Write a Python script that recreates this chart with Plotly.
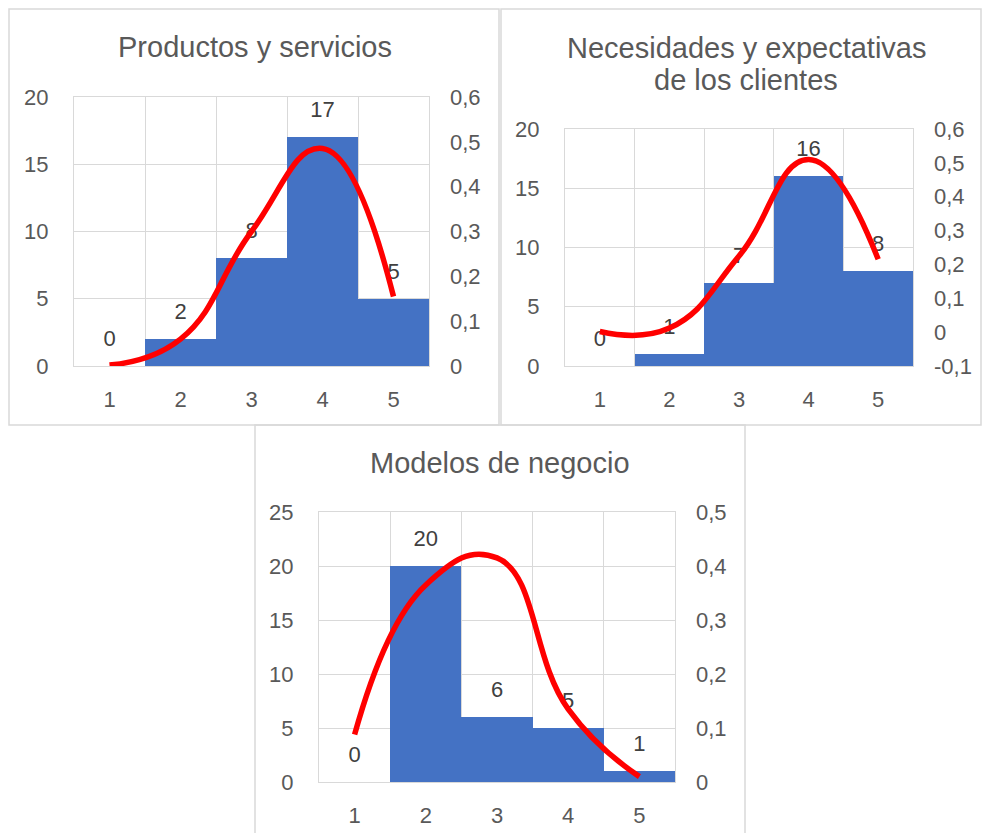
import plotly.graph_objects as go

# Datos de las tres distribuciones (frecuencias y curva normal ajustada)
categorias = [1, 2, 3, 4, 5]

frecuencias_productos = [0, 2, 8, 17, 5]
densidad_productos = [0.002, 0.06, 0.30, 0.485, 0.155]

frecuencias_necesidades = [0, 1, 7, 16, 8]
densidad_necesidades = [0.002, 0.012, 0.225, 0.51, 0.215]

frecuencias_modelos = [0, 20, 6, 5, 1]
densidad_modelos = [0.088, 0.365, 0.415, 0.135, 0.01]

titulos = [["Productos y servicios"],
           ["Necesidades y expectativas", "de los clientes"],
           ["Modelos de negocio"]]

rango_izq = [(0, 20, 5), (0, 20, 5), (0, 25, 5)]
ticks_der = [
    ([0, 0.1, 0.2, 0.3, 0.4, 0.5, 0.6], ["0", "0,1", "0,2", "0,3", "0,4", "0,5", "0,6"]),
    ([-0.1, 0, 0.1, 0.2, 0.3, 0.4, 0.5, 0.6], ["-0,1", "0", "0,1", "0,2", "0,3", "0,4", "0,5", "0,6"]),
    ([0, 0.1, 0.2, 0.3, 0.4, 0.5], ["0", "0,1", "0,2", "0,3", "0,4", "0,5"]),
]

series = [
    (frecuencias_productos, densidad_productos),
    (frecuencias_necesidades, densidad_necesidades),
    (frecuencias_modelos, densidad_modelos),
]

W, H = 982, 833
AZUL = "#4472C4"
ROJO = "#FF0000"
GRIS_TXT = "#595959"
GRIS_GRID = "#D9D9D9"
FUENTE = "Liberation Sans, Arial, sans-serif"


def px_x(p):
    return p / W


def px_y(p):
    return 1 - p / H


# Área de trazado de cada gráfico en píxeles: (izq, der, arriba, abajo)
areas = [(74, 429, 97, 366), (565, 913, 129, 366), (319, 675, 512, 782)]
# Marcos de cada gráfico
marcos = [(9, 499, 9, 425), (501, 981, 9, 425), (255, 745, 425, 840)]
# Posición de los títulos: centro x, centros y de cada línea
pos_titulos = [(255, [47]), (746, [48, 80]), (500, [463])]

fig = go.Figure()
layout = dict(
    template="none",
    width=W, height=H,
    margin=dict(l=0, r=0, t=0, b=0, pad=0, autoexpand=False),
    paper_bgcolor="white", plot_bgcolor="white",
    showlegend=False, bargap=0,
    separators=",.",
    font=dict(family=FUENTE, color=GRIS_TXT, size=22),
    shapes=[], annotations=[],
)

for i, ((frec, dens), (x0, x1, y0, y1)) in enumerate(zip(series, areas)):
    n = i + 1
    xa = "x" if n == 1 else f"x{n}"
    ya = "y" if n == 1 else f"y{n}"
    ya2 = f"y{n + 3}"

    fig.add_trace(go.Bar(x=categorias, y=frec, marker=dict(color=AZUL, line=dict(width=0)),
                         width=1, xaxis=xa, yaxis=ya, hoverinfo="skip"))
    fig.add_trace(go.Scatter(x=categorias, y=frec, mode="markers+text",
                             text=[str(v) for v in frec], textposition="top center",
                             textfont=dict(size=22, color="#404040", family=FUENTE),
                             marker=dict(size=22, color="rgba(0,0,0,0)"),
                             xaxis=xa, yaxis=ya, hoverinfo="skip"))
    fig.add_trace(go.Scatter(x=categorias, y=dens, mode="lines",
                             line=dict(color=ROJO, width=5.5, shape="spline", smoothing=1.3),
                             xaxis=xa, yaxis=ya2, hoverinfo="skip"))

    lo, hi, paso = rango_izq[i]
    tv, tt = ticks_der[i]

    layout["xaxis" if n == 1 else f"xaxis{n}"] = dict(
        domain=[px_x(x0), px_x(x1)], anchor=ya, range=[0.5, 5.5], automargin=False,
        tickvals=categorias, ticktext=[str(c) for c in categorias],
        showgrid=False, zeroline=False, ticks="",
        showline=True, mirror=True, linecolor=GRIS_GRID, linewidth=1,
        ticklabelstandoff=14, tickfont=dict(size=22, color=GRIS_TXT),
        minor=dict(tickvals=[c - 0.5 for c in categorias] + [categorias[-1] + 0.5],
                   showgrid=True, gridcolor=GRIS_GRID, gridwidth=1, ticks=""),
        fixedrange=True,
    )
    layout["yaxis" if n == 1 else f"yaxis{n}"] = dict(
        domain=[px_y(y1), px_y(y0)], anchor=xa, range=[lo, hi], dtick=paso, tick0=0,
        automargin=False,
        showgrid=True, gridcolor=GRIS_GRID, gridwidth=1,
        zeroline=False,
        showline=True, mirror=True, linecolor=GRIS_GRID, linewidth=1,
        ticks="", ticklabelstandoff=20,
        tickfont=dict(size=22, color=GRIS_TXT), fixedrange=True,
    )
    layout[f"yaxis{n + 3}"] = dict(
        overlaying=ya, anchor=xa, side="right", range=[tv[0], tv[-1]], automargin=False,
        tickvals=tv, ticktext=tt, showgrid=False, zeroline=False, showline=False,
        ticks="", ticklabelstandoff=20, tickfont=dict(size=22, color=GRIS_TXT),
        fixedrange=True,
    )

    mx0, mx1, my0, my1 = marcos[i]
    layout["shapes"].append(dict(type="rect", xref="paper", yref="paper",
                                 x0=px_x(mx0), x1=px_x(mx1), y0=px_y(my1), y1=px_y(my0),
                                 line=dict(color=GRIS_GRID, width=1.5), layer="below"))

    cx, lineas_y = pos_titulos[i]
    for linea, ly in zip(titulos[i], lineas_y):
        layout["annotations"].append(dict(
            text=linea, xref="paper", yref="paper", x=px_x(cx), y=px_y(ly),
            xanchor="center", yanchor="middle", showarrow=False,
            font=dict(size=29, color=GRIS_TXT, family=FUENTE)))

fig.update_layout(**layout)
fig.write_html("out.html")
